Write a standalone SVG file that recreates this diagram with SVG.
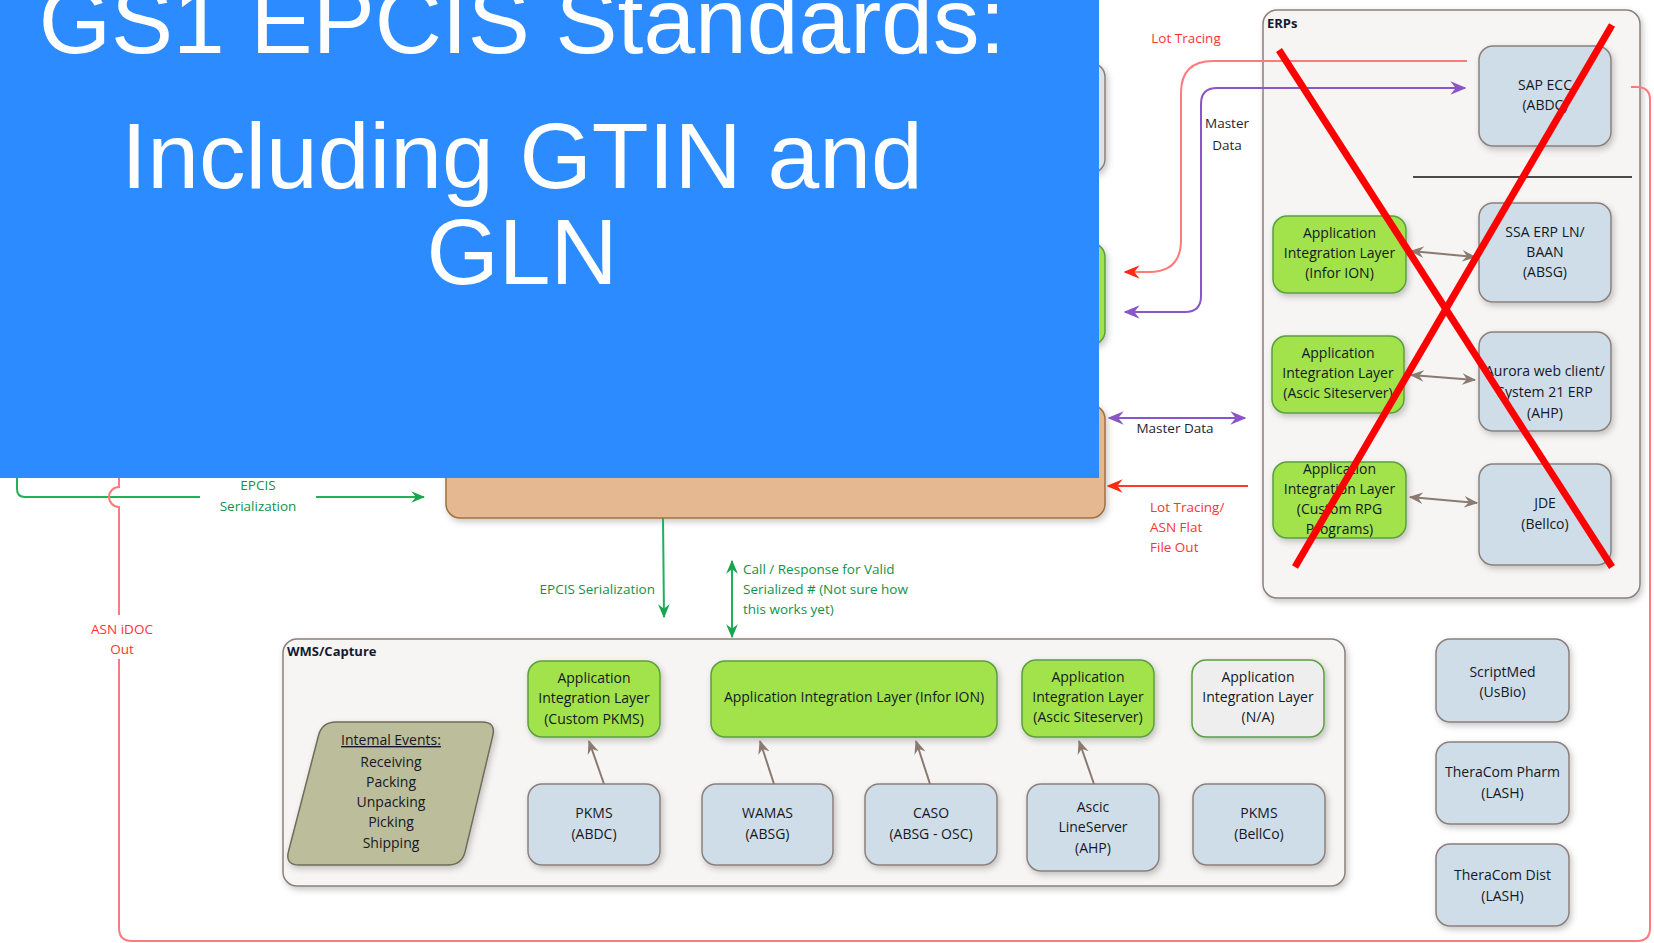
<svg xmlns="http://www.w3.org/2000/svg" width="1654" height="943" viewBox="0 0 1654 943">
<style>
.bx{fill:#cfdde9;stroke:#8c807b;stroke-width:1.5}
.gr{fill:#a2e24c;stroke:#5b9f3f;stroke-width:1.5}
.na{fill:#eeeeee;stroke:#5b9f3f;stroke-width:1.5}
.ct{fill:#f7f5f4;stroke:#8c807b;stroke-width:1.5}
.t{font-family:"Open Sans","Noto Sans",sans-serif;font-size:14px;fill:#141824;text-anchor:middle;font-weight:500}
.h{font-family:"Open Sans","Noto Sans",sans-serif;font-size:13px;font-weight:bold;fill:#141a33}
.lg{font-family:"Open Sans","Noto Sans",sans-serif;font-size:13.5px;fill:#10924a;font-weight:500}
.lr{font-family:"Open Sans","Noto Sans",sans-serif;font-size:13.5px;fill:#ff3434;font-weight:500}
.ld{font-family:"Open Sans","Noto Sans",sans-serif;font-size:13.5px;fill:#1f1f2e;font-weight:500}
.cg{fill:none;stroke:#8a7a72;stroke-width:2}
.cgr{fill:none;stroke:#22b05a;stroke-width:2}
.cp{fill:none;stroke:#8a55c8;stroke-width:2}
.cr{fill:none;stroke:#ff7a7a;stroke-width:2}
.crs{fill:none;stroke:#ff3a2a;stroke-width:2}
.title{font-family:"Liberation Sans",Arial,sans-serif;font-size:93px;fill:#ffffff;text-anchor:middle}
</style>
<defs>
<filter id="sh" x="-10%" y="-10%" width="130%" height="140%">
<feDropShadow dx="2" dy="3" stdDeviation="3" flood-color="#000" flood-opacity="0.22"/>
</filter>
<marker id="mg" viewBox="0 0 12 10" markerWidth="14" markerHeight="12" refX="11" refY="5" orient="auto-start-reverse" markerUnits="userSpaceOnUse"><path d="M0,0 L12,5 L0,10 L4,5 z" fill="#8a7a72"/></marker>
<marker id="mgr" viewBox="0 0 12 10" markerWidth="14" markerHeight="12" refX="11" refY="5" orient="auto-start-reverse" markerUnits="userSpaceOnUse"><path d="M0,0 L12,5 L0,10 L4,5 z" fill="#18a550"/></marker>
<marker id="mp" viewBox="0 0 12 10" markerWidth="16" markerHeight="14" refX="11" refY="5" orient="auto-start-reverse" markerUnits="userSpaceOnUse"><path d="M0,0 L12,5 L0,10 L4,5 z" fill="#8a55c8"/></marker>
<marker id="mr" viewBox="0 0 12 10" markerWidth="16" markerHeight="14" refX="11" refY="5" orient="auto-start-reverse" markerUnits="userSpaceOnUse"><path d="M0,0 L12,5 L0,10 L4,5 z" fill="#ff2a10"/></marker>
</defs>
<rect width="1654" height="943" fill="#ffffff"/>

<!-- partial nodes under the title -->
<g id="node-top-gray"><rect x="860" y="63" width="245" height="110" rx="14" class="bx" style="fill:#dde2e8" filter="url(#sh)"/></g>
<g id="node-mid-green"><rect x="860" y="243" width="245" height="102" rx="14" class="gr" filter="url(#sh)"/></g>
<g id="node-central"><rect x="446" y="405" width="659" height="113" rx="14" fill="#e6b891" stroke="#a0703e" stroke-width="1.5" filter="url(#sh)"/></g>

<!-- ERPs container -->
<g id="erps">
<rect x="1263" y="10" width="377" height="588" rx="14" class="ct" filter="url(#sh)"/>
<text x="1267" y="28" class="h">ERPs</text>
<line x1="1413" y1="177" x2="1632" y2="177" stroke="#111" stroke-width="1.5"/>
</g>
<g id="sap-ecc"><rect x="1479" y="46" width="132" height="100" rx="14" class="bx" filter="url(#sh)"/><text class="t"><tspan x="1545" y="90">SAP ECC</tspan><tspan x="1545" y="110">(ABDC)</tspan></text></g>
<g id="ssa-erp"><rect x="1479" y="203" width="132" height="99" rx="14" class="bx" filter="url(#sh)"/><text class="t"><tspan x="1545" y="237">SSA ERP LN/</tspan><tspan x="1545" y="257">BAAN</tspan><tspan x="1545" y="277">(ABSG)</tspan></text></g>
<g id="aurora"><rect x="1479" y="332" width="132" height="99" rx="14" class="bx" filter="url(#sh)"/><text class="t"><tspan x="1545" y="376">Aurora web client/</tspan><tspan x="1545" y="397">System 21 ERP</tspan><tspan x="1545" y="418">(AHP)</tspan></text></g>
<g id="jde"><rect x="1479" y="464" width="132" height="101" rx="14" class="bx" filter="url(#sh)"/><text class="t"><tspan x="1545" y="508">JDE</tspan><tspan x="1545" y="529">(Bellco)</tspan></text></g>
<g id="ail-erp-infor"><rect x="1273" y="216" width="133" height="77" rx="14" class="gr" filter="url(#sh)"/><text class="t"><tspan x="1339.5" y="238">Application</tspan><tspan x="1339.5" y="258">Integration Layer</tspan><tspan x="1339.5" y="278">(Infor ION)</tspan></text></g>
<g id="ail-erp-ascic"><rect x="1272" y="336" width="132" height="77" rx="14" class="gr" filter="url(#sh)"/><text class="t"><tspan x="1338" y="358">Application</tspan><tspan x="1338" y="378">Integration Layer</tspan><tspan x="1338" y="398">(Ascic Siteserver)</tspan></text></g>
<g id="ail-erp-rpg"><rect x="1273" y="462" width="133" height="76" rx="14" class="gr" filter="url(#sh)"/><text class="t"><tspan x="1339.5" y="474">Application</tspan><tspan x="1339.5" y="494">Integration Layer</tspan><tspan x="1339.5" y="514">(Custom RPG</tspan><tspan x="1339.5" y="534">Programs)</tspan></text></g>

<!-- WMS container -->
<g id="wms">
<rect x="283" y="639" width="1062" height="247" rx="14" class="ct" filter="url(#sh)"/>
<text x="287" y="656" class="h">WMS/Capture</text>
</g>
<g id="internal-events">
<path d="M336,722 H482 Q496,722 492.8,735.6 L465.2,851.4 Q462,865 448,865 H299 Q285,865 288.5,851.5 L318.5,735.5 Q322,722 336,722 Z" fill="#bcbd9a" stroke="#6d6d5a" stroke-width="1.5" filter="url(#sh)"/>
<text class="t"><tspan x="391" y="745" text-decoration="underline">Intemal Events:</tspan><tspan x="391" y="767">Receiving</tspan><tspan x="391" y="787">Packing</tspan><tspan x="391" y="807">Unpacking</tspan><tspan x="391" y="827">Picking</tspan><tspan x="391" y="848">Shipping</tspan></text>
</g>
<g id="ail-pkms"><rect x="528" y="661" width="132" height="76" rx="14" class="gr" filter="url(#sh)"/><text class="t"><tspan x="594" y="683">Application</tspan><tspan x="594" y="703">Integration Layer</tspan><tspan x="594" y="724">(Custom PKMS)</tspan></text></g>
<g id="ail-infor"><rect x="711" y="661" width="286" height="76" rx="14" class="gr" filter="url(#sh)"/><text class="t"><tspan x="854" y="702">Application Integration Layer (Infor ION)</tspan></text></g>
<g id="ail-ascic"><rect x="1022" y="660" width="132" height="77" rx="14" class="gr" filter="url(#sh)"/><text class="t"><tspan x="1088" y="682">Application</tspan><tspan x="1088" y="702">Integration Layer</tspan><tspan x="1088" y="722">(Ascic Siteserver)</tspan></text></g>
<g id="ail-na"><rect x="1192" y="660" width="132" height="77" rx="14" class="na" filter="url(#sh)"/><text class="t"><tspan x="1258" y="682">Application</tspan><tspan x="1258" y="702">Integration Layer</tspan><tspan x="1258" y="722">(N/A)</tspan></text></g>
<g id="pkms-abdc"><rect x="528" y="784" width="132" height="81" rx="14" class="bx" filter="url(#sh)"/><text class="t"><tspan x="594" y="818">PKMS</tspan><tspan x="594" y="839">(ABDC)</tspan></text></g>
<g id="wamas"><rect x="702" y="784" width="131" height="81" rx="14" class="bx" filter="url(#sh)"/><text class="t"><tspan x="767.5" y="818">WAMAS</tspan><tspan x="767.5" y="839">(ABSG)</tspan></text></g>
<g id="caso"><rect x="865" y="784" width="132" height="81" rx="14" class="bx" filter="url(#sh)"/><text class="t"><tspan x="931" y="818">CASO</tspan><tspan x="931" y="839">(ABSG - OSC)</tspan></text></g>
<g id="ascic-lineserver"><rect x="1027" y="784" width="132" height="87" rx="14" class="bx" filter="url(#sh)"/><text class="t"><tspan x="1093" y="812">Ascic</tspan><tspan x="1093" y="832">LineServer</tspan><tspan x="1093" y="853">(AHP)</tspan></text></g>
<g id="pkms-bellco"><rect x="1193" y="784" width="132" height="81" rx="14" class="bx" filter="url(#sh)"/><text class="t"><tspan x="1259" y="818">PKMS</tspan><tspan x="1259" y="839">(BellCo)</tspan></text></g>

<g id="scriptmed"><rect x="1436" y="639" width="133" height="83" rx="14" class="bx" filter="url(#sh)"/><text class="t"><tspan x="1502.5" y="677">ScriptMed</tspan><tspan x="1502.5" y="697">(UsBio)</tspan></text></g>
<g id="theracom-pharm"><rect x="1436" y="742" width="133" height="82" rx="14" class="bx" filter="url(#sh)"/><text class="t"><tspan x="1502.5" y="777">TheraCom Pharm</tspan><tspan x="1502.5" y="798">(LASH)</tspan></text></g>
<g id="theracom-dist"><rect x="1436" y="844" width="133" height="82" rx="14" class="bx" filter="url(#sh)"/><text class="t"><tspan x="1502.5" y="880">TheraCom Dist</tspan><tspan x="1502.5" y="901">(LASH)</tspan></text></g>

<!-- connectors -->
<g id="connectors">
<line x1="1411" y1="251" x2="1475" y2="257" class="cg" marker-start="url(#mg)" marker-end="url(#mg)"/>
<line x1="1411" y1="375" x2="1475" y2="380" class="cg" marker-start="url(#mg)" marker-end="url(#mg)"/>
<line x1="1410" y1="497" x2="1477" y2="503" class="cg" marker-start="url(#mg)" marker-end="url(#mg)"/>
<line x1="604" y1="784" x2="589" y2="741" class="cg" marker-end="url(#mg)"/>
<line x1="774" y1="784" x2="760" y2="741" class="cg" marker-end="url(#mg)"/>
<line x1="930" y1="784" x2="916" y2="741" class="cg" marker-end="url(#mg)"/>
<line x1="1094" y1="784" x2="1079" y2="741" class="cg" marker-end="url(#mg)"/>

<path d="M1467,61 H1213 Q1181,61 1181,93 V240 Q1181,272 1149,272 H1125" class="cr" marker-end="url(#mr)"/>
<path d="M1125,312 H1185 Q1201,312 1201,296 V104 Q1201,88 1217,88 H1465" class="cp" marker-start="url(#mp)" marker-end="url(#mp)"/>
<line x1="1109" y1="418" x2="1245" y2="418" class="cp" marker-start="url(#mp)" marker-end="url(#mp)"/>
<line x1="1248" y1="486" x2="1108" y2="486" class="crs" marker-end="url(#mr)"/>

<path d="M17,470 V489 Q17,497 25,497 H200" class="cgr"/>
<line x1="316" y1="497" x2="424" y2="497" class="cgr" marker-end="url(#mgr)"/>
<line x1="663" y1="518" x2="664" y2="617" class="cgr" stroke-width="1.5" marker-end="url(#mgr)"/>
<line x1="732" y1="561" x2="732" y2="637" class="cgr" marker-start="url(#mgr)" marker-end="url(#mgr)"/>

<path d="M1631,87 H1637 Q1650,87 1650,100 V928 Q1650,941 1637,941 H132 Q119,941 119,928 V507 A10 10 0 0 1 119,487 V470" class="cr"/>

<rect x="90" y="615" width="64" height="44" fill="#ffffff"/>
<text class="lr" text-anchor="middle"><tspan x="122" y="634">ASN iDOC</tspan><tspan x="122" y="654">Out</tspan></text>
<text x="1186" y="43" class="lr" text-anchor="middle">Lot Tracing</text>
<text class="ld" text-anchor="middle"><tspan x="1227" y="128">Master</tspan><tspan x="1227" y="150">Data</tspan></text>
<text x="1175" y="433" class="ld" text-anchor="middle">Master Data</text>
<text class="lr"><tspan x="1150" y="512">Lot Tracing/</tspan><tspan x="1150" y="532">ASN Flat</tspan><tspan x="1150" y="552">File Out</tspan></text>
<text class="lg" text-anchor="middle"><tspan x="258" y="490">EPCIS</tspan><tspan x="258" y="511">Serialization</tspan></text>
<text x="655" y="594" class="lg" text-anchor="end">EPCIS Serialization</text>
<text class="lg"><tspan x="743" y="574">Call / Response for Valid</tspan><tspan x="743" y="594">Serialized # (Not sure how</tspan><tspan x="743" y="614">this works yet)</tspan></text>
</g>

<!-- red cross -->
<g id="red-cross" stroke="#ff0000" stroke-width="7" stroke-linecap="butt">
<line x1="1279" y1="50" x2="1612" y2="567"/>
<line x1="1612" y1="25" x2="1295" y2="567"/>
</g>

<!-- title overlay -->
<g id="title">
<rect x="0" y="0" width="1099" height="478" fill="#2b8bff"/>
<text class="title"><tspan x="522" y="53">GS1 EPCIS Standards:</tspan><tspan x="522" y="188">Including GTIN and</tspan><tspan x="522" y="284">GLN</tspan></text>
</g>
</svg>
